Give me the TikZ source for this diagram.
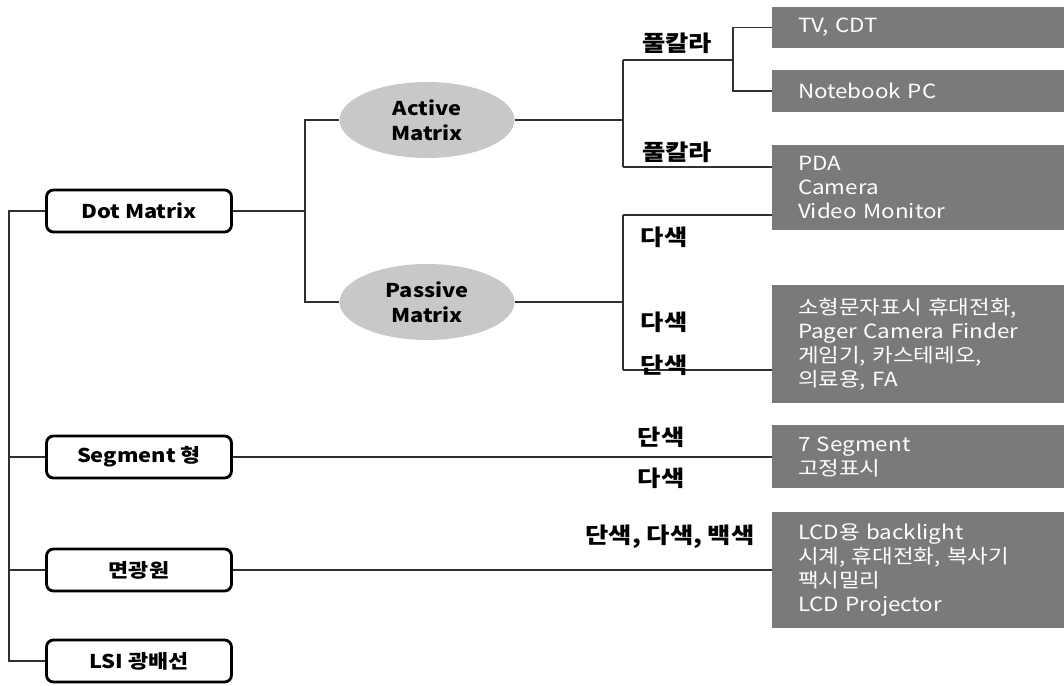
\documentclass[tikz,border=0pt]{standalone}
\usepackage{fontspec}
\setmainfont{Noto Sans CJK KR}[FakeStretch=1.15]
\usetikzlibrary{shapes.geometric}
\definecolor{boxgray}{HTML}{7A7A7A}
\definecolor{ovalgray}{HTML}{C8C8C8}
\definecolor{wire}{HTML}{303030}
\begin{document}
\begin{tikzpicture}[x=1pt,y=-1pt,
  catbox/.style={draw=black, line width=2.8pt, rounded corners=7pt, fill=white,
    minimum width=185pt, minimum height=42pt, inner sep=0pt,
    font=\bfseries\fontsize{19}{22}\selectfont},
  oval/.style={ellipse, fill=ovalgray, minimum width=175pt, minimum height=76pt,
    inner sep=0pt, align=center, font=\bfseries\fontsize{19}{25}\selectfont},
  appbox/.style={fill=boxgray, text=white, text width=240pt, inner xsep=26pt,
    inner ysep=0pt, minimum width=292pt, align=left,
    font=\fontsize{19.5}{24}\selectfont},
  tag/.style={inner sep=0pt, font=\bfseries\fontsize{22}{24}\selectfont},
  wireline/.style={draw=wire, line width=1.3pt}]
\useasboundingbox (0,0) rectangle (1064,685);

% category boxes on the left
\node[catbox] (dm)  at (139,211) {Dot Matrix};
\node[catbox] (seg) at (139,457) {Segment 형};
\node[catbox] (ms)  at (139,570) {면광원};
\node[catbox] (lsi) at (139,661) {LSI 광배선};

% drive types
\node[oval] (am) at (427,120) {Active\\Matrix};
\node[oval] (pm) at (427,302) {Passive\\Matrix};

% application boxes
\node[appbox, minimum height=41pt]  (tv)  at (918,27.5) {TV, CDT};
\node[appbox, minimum height=42pt]  (nb)  at (918,91)   {Notebook PC};
\node[appbox, minimum height=85pt]  (pda) at (918,187.5) {PDA\\Camera\\Video Monitor};
\node[appbox, minimum height=118pt] (sm)  at (918,344)  {소형문자표시 휴대전화,\\Pager Camera Finder\\게임기, 카스테레오,\\의료용, FA};
\node[appbox, minimum height=63pt]  (sg7) at (918,456.5) {7 Segment\\고정표시};
\node[appbox, minimum height=116pt] (lcd) at (918,570)  {LCD용 backlight\\시계, 휴대전화, 복사기\\팩시밀리\\LCD Projector};

% junction points of the tree
\coordinate (trunk) at (9,211);
\coordinate (jdm) at (305,211);
\coordinate (ja) at (623,120);
\coordinate (jatop) at (623,60);
\coordinate (jabot) at (623,167);
\coordinate (jfull) at (733,60);
\coordinate (jp) at (623,302);
\coordinate (jptop) at (623,215);
\coordinate (jpbot) at (623,370);

% trunk and category branches
\draw[wireline] (dm.west) -- (trunk) |- (lsi.west);
\draw[wireline] (trunk |- seg.west) -- (seg.west);
\draw[wireline] (trunk |- ms.west) -- (ms.west);

% Dot Matrix to drive types
\draw[wireline] (dm.east) -- (jdm);
\draw[wireline] (am.west) -| (jdm) |- (pm.west);

% Active Matrix branches
\draw[wireline] (am.east) -- (ja);
\draw[wireline] (jatop) -- (jabot);
\draw[wireline] (jatop) -- (jfull);
\draw[wireline] (tv.west) -| (jfull) |- (nb.west);
\draw[wireline] (jabot) -- (jabot -| pda.west);

% Passive Matrix branches
\draw[wireline] (pm.east) -- (jp);
\draw[wireline] (jptop) -- (jpbot);
\draw[wireline] (jptop) -- (jptop -| pda.west);
\draw[wireline] (jpbot) -- (jpbot -| sm.west);

% Segment and surface light source
\draw[wireline] (seg.east) -- (seg.east -| sg7.west);
\draw[wireline] (ms.east) -- (ms.east -| lcd.west);

% colour labels
\node[tag] (t1) at (677,43)  {풀칼라};
\node[tag] (t2) at (677,152) {풀칼라};
\node[tag] (t3) at (664,237) {다색};
\node[tag] (t4) at (664,322) {다색};
\node[tag] (t5) at (664,365) {단색};
\node[tag] (t6) at (661,437) {단색};
\node[tag] (t7) at (661,478) {다색};
\node[tag] (t8) at (670,537) {단색, 다색, 백색};
\end{tikzpicture}
\end{document}
